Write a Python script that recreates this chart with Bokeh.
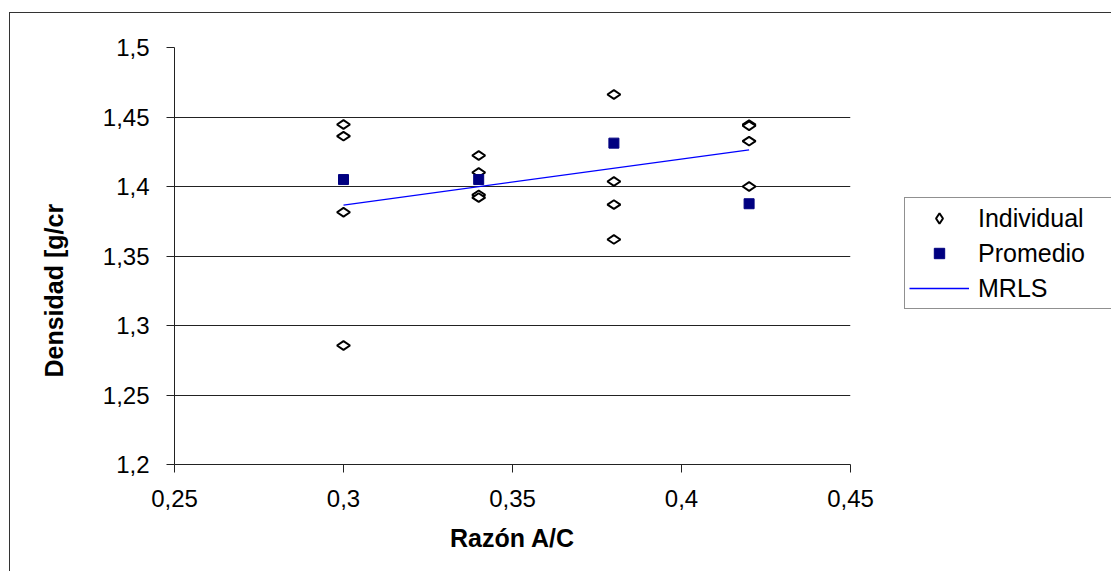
from math import pi
from bokeh.plotting import figure
from bokeh.models import (Legend, LegendItem, FixedTicker, CustomJSTickFormatter,
                          Range1d, InlineStyleSheet)
from bokeh.embed import file_html
from bokeh.resources import INLINE

# ---- data ----
ind_x = [0.30, 0.30, 0.30, 0.30,
         0.34, 0.34, 0.34, 0.34,
         0.38, 0.38, 0.38, 0.38,
         0.42, 0.42, 0.42, 0.42]
ind_y = [1.4446, 1.4362, 1.3815, 1.2856,
         1.4223, 1.4101, 1.3940, 1.3920,
         1.4662, 1.4036, 1.3870, 1.3619,
         1.4445, 1.4437, 1.4326, 1.4000]
prom_x = [0.30, 0.34, 0.38, 0.42]
prom_y = [1.4050, 1.4050, 1.4312, 1.3876]
mrls_x = [0.30, 0.42]
mrls_y = [1.3866, 1.4264]
x_ticks = [0.25, 0.30, 0.35, 0.40, 0.45]
y_ticks = [1.20, 1.25, 1.30, 1.35, 1.40, 1.45, 1.50]

FONT = "Liberation Sans"

p = figure(frame_width=676, frame_height=417,
           min_border_left=174, min_border_right=0,
           min_border_top=47, min_border_bottom=107,
           x_range=Range1d(0.25, 0.45), y_range=Range1d(1.2, 1.5),
           output_backend="svg", toolbar_location=None,
           background_fill_color="white", border_fill_color="white")
p.outline_line_color = None

p.stylesheets = [InlineStyleSheet(css="""
:host::after {
  content: '';
  position: absolute;
  left: 9px; top: 12px;
  width: calc(100% - 9px); height: calc(100% - 12px);
  border-left: 1.5px solid #333;
  border-top: 1.5px solid #333;
  box-sizing: border-box;
  pointer-events: none;
}
""")]

fmt = CustomJSTickFormatter(code="""
let s = tick.toFixed(2).replace(/0+$/, '').replace(/\\.$/, '');
return s.replace('.', ',');
""")

p.xaxis.ticker = FixedTicker(ticks=x_ticks)
p.yaxis.ticker = FixedTicker(ticks=y_ticks)
for ax in (p.xaxis[0], p.yaxis[0]):
    ax.formatter = fmt
    ax.axis_line_color = "#222222"
    ax.major_tick_line_color = "#222222"
    ax.major_tick_out = 8
    ax.major_tick_in = 0
    ax.minor_tick_line_color = None
    ax.major_label_text_font = FONT
    ax.major_label_text_font_size = "24px"
    ax.major_label_text_color = "black"
    ax.axis_label_text_font = FONT
    ax.axis_label_text_font_style = "bold"
    ax.axis_label_text_font_size = "25px"
    ax.axis_label_text_color = "black"
p.yaxis.major_label_standoff = 17
p.xaxis.major_label_standoff = 17
p.xaxis.axis_label = "Razón A/C"
p.xaxis.axis_label_standoff = 14
p.yaxis.axis_label = "Densidad [g/cr" + "\u00a0" * 10
p.yaxis.axis_label_standoff = 32

p.xgrid.grid_line_color = None
p.ygrid.grid_line_color = "#222222"
p.ygrid.grid_line_width = 1

r_ind = p.scatter(ind_x, ind_y, marker="diamond", angle=90, angle_units="deg",
                  size=13, fill_color="white", line_color="black", line_width=2)
r_prom = p.scatter(prom_x, prom_y, marker="square", size=10,
                   fill_color="#000080", line_color="#000080")
r_line = p.line(mrls_x, mrls_y, line_color="#0000ff", line_width=1.3)

legend = Legend(items=[LegendItem(label="Individual", renderers=[r_ind]),
                       LegendItem(label="Promedio", renderers=[r_prom]),
                       LegendItem(label="MRLS", renderers=[r_line])],
                location=(54, 155), orientation="vertical",
                label_text_font=FONT, label_text_font_size="25px",
                label_text_color="black",
                glyph_width=60, glyph_height=26, label_height=32,
                label_width=130, label_standoff=9, spacing=3,
                padding=4, margin=0,
                border_line_color="#222222", border_line_width=1.5,
                background_fill_color="white", background_fill_alpha=1)
p.add_layout(legend, "right")
p.min_border_right = 261

open("out.html", "w").write(file_html(p, INLINE))
